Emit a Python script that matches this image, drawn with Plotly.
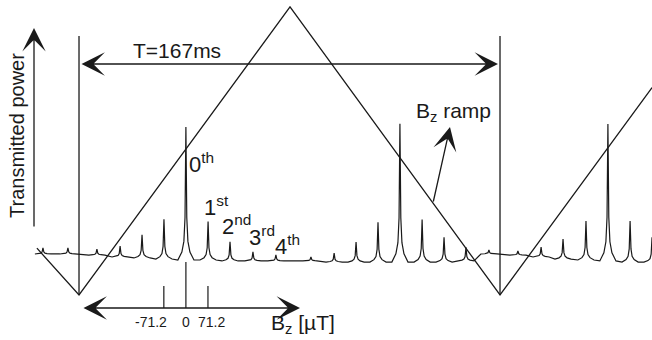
import plotly.graph_objects as go

W, H = 652, 340

# ---------------- data ----------------
T_PERIOD = 167.0                                   # ms, one ramp period

ramp_t = [-16.7, 0.0, 83.7, 167.0, 227.3]          # ms
ramp_bz = [-235, -346, 337, -346, 146]             # µT

peak_t = [-14.3, -4.4, 7.1, 16.3, 25.0, 33.7, 42.4, 51.2, 59.9, 69.0, 78.1, 92.0,
          101.2, 109.9, 118.6, 127.3, 136.1, 144.8, 153.5, 162.6, 174.1, 183.3,
          192.0, 201.1, 209.8, 218.6, 227.3]       # ms
peak_h = [0.044, 0.044, 0.044, 0.08, 0.17, 0.29, 0.97, 0.28, 0.14, 0.066, 0.044, 0.03,
          0.066, 0.146, 0.29, 1.01, 0.31, 0.18, 0.10, 0.03, 0.03, 0.073,
          0.146, 0.285, 1.0, 0.30, 0.18]           # transmitted power (arb.)
peak_base = [0.044, 0.044, 0.036, 0.022, 0.015, 0.007, 0.0, 0.0, -0.007, -0.007, -0.007, -0.007,
             -0.015, -0.015, -0.015, -0.015, -0.015, -0.015, -0.007, 0.044, 0.036, 0.022,
             0.007, 0.0, -0.007, -0.015, -0.015]

bz_ticks = [-71.2, 0.0, 71.2]                      # µT
bz_tick_labels = ["-71.2", "0", "71.2"]
order_labels = ["0<sup>th</sup>", "1<sup>st</sup>", "2<sup>nd</sup>", "3<sup>rd</sup>", "4<sup>th</sup>"]

# ---------------- helpers / styling ----------------
FONT = "Liberation Sans, Arial, sans-serif"
INK = "#1a1a1a"

def px(x):
    return x / W

def py(y):
    return 1 - y / H

# peak line shape (Lorentzian-like spike)
shape_dx = [-3.2, -1.6, -0.8, -0.35, 0.0, 0.35, 0.8, 1.6, 3.2]
shape_f = [0.0, 0.06, 0.14, 0.32, 1.0, 0.32, 0.14, 0.06, 0.0]
sig_x, sig_y = [], []
for t, h, b in zip(peak_t, peak_h, peak_base):
    for dx, f in zip(shape_dx, shape_f):
        sig_x.append(t + dx)
        sig_y.append(b + f * h)

# Bz scale: peak spacing corresponds to 71.2 µT
t_zero = peak_t[6]
t_per_uT = (peak_t[7] - peak_t[5]) / (2 * 71.2)
tick_t = [t_zero + b * t_per_uT for b in bz_ticks]

fig = go.Figure()
fig.add_trace(go.Scatter(x=sig_x, y=sig_y, mode="lines",
                         line=dict(color=INK, width=1.2), hoverinfo="skip", showlegend=False))
fig.add_trace(go.Scatter(x=ramp_t, y=ramp_bz, yaxis="y2", mode="lines",
                         line=dict(color=INK, width=1.3), hoverinfo="skip", showlegend=False))

shapes = []
for tv in [0.0, T_PERIOD]:
    shapes.append(dict(type="line", xref="x", yref="paper", x0=tv, x1=tv,
                       y0=py(295), y1=py(36), line=dict(color=INK, width=1.3)))
for tv, b in zip(tick_t, bz_ticks):
    top = 262 if b == 0 else 286
    shapes.append(dict(type="line", xref="x", yref="paper", x0=tv, x1=tv,
                       y0=py(308), y1=py(top), line=dict(color=INK, width=1.2)))

AS = 3.0
ann = []
arrow_style = dict(showarrow=True, arrowhead=3, arrowsize=AS, arrowwidth=1.3,
                   arrowcolor=INK, text="", standoff=0, startstandoff=0)
# T arrow (double headed, between the two ramp minima)
ann.append(dict(xref="x", x=T_PERIOD - 0.8, axref="x", ax=0.4,
                yref="paper", y=py(64), ayref="pixel", ay=0,
                arrowside="end+start", startarrowhead=3, startarrowsize=AS, **arrow_style))
# Transmitted power arrow
ann.append(dict(xref="paper", yref="paper", x=px(34), y=py(28), ax=0, ay=200, **arrow_style))
# Bz axis arrow (double headed)
ann.append(dict(xref="paper", yref="paper", x=px(300), y=py(308), ax=-218, ay=0,
                arrowside="end+start", startarrowhead=3, startarrowsize=AS, **arrow_style))
# Bz ramp pointer
ann.append(dict(xref="paper", yref="paper", x=px(450), y=py(127), ax=-17, ay=76, **arrow_style))

txt = dict(showarrow=False, font=dict(family=FONT, size=21, color=INK))
ann.append(dict(xref="paper", yref="paper", x=px(176.5), y=py(50), text="T=167ms",
                xanchor="center", yanchor="middle", **txt))
ann.append(dict(xref="paper", yref="paper", x=px(17), y=py(136), text="Transmitted power",
                textangle=-90, xanchor="center", yanchor="middle", showarrow=False,
                font=dict(family=FONT, size=20, color=INK)))
ann.append(dict(xref="paper", yref="paper", x=px(453), y=py(112), text="B<sub>z</sub> ramp",
                xanchor="center", yanchor="middle", **txt))
ann.append(dict(xref="paper", yref="paper", x=px(303), y=py(324), text="B<sub>z</sub> [µT]",
                xanchor="center", yanchor="middle", **txt))

for tv, lab, sh in zip(tick_t, bz_tick_labels, [-13, 0, 4]):
    ann.append(dict(xref="x", yref="paper", x=tv, y=py(322), text=lab, xshift=sh,
                    xanchor="center", yanchor="middle", showarrow=False,
                    font=dict(family=FONT, size=14, color=INK)))

order_pos = [(187, 163), (202, 206), (220, 225), (247, 236), (273, 245)]
for lab, (lx, ly) in zip(order_labels, order_pos):
    ann.append(dict(xref="paper", yref="paper", x=px(lx), y=py(ly), text=lab,
                    xanchor="left", yanchor="middle", showarrow=False,
                    font=dict(family=FONT, size=22, color=INK)))

fig.update_layout(
    width=W, height=H, margin=dict(l=0, r=0, t=0, b=0),
    paper_bgcolor="white", plot_bgcolor="white",
    xaxis=dict(range=[-31.34, 227.29], visible=False, fixedrange=True),
    yaxis=dict(range=[-0.584, 1.898], visible=False, fixedrange=True),
    yaxis2=dict(range=[-452.7, 353.5], visible=False, overlaying="y", fixedrange=True),
    shapes=shapes, annotations=ann, showlegend=False,
)

fig.write_html("out.html", config={"displayModeBar": False},
               post_script="document.body.style.margin='0';document.body.style.overflow='hidden';")
